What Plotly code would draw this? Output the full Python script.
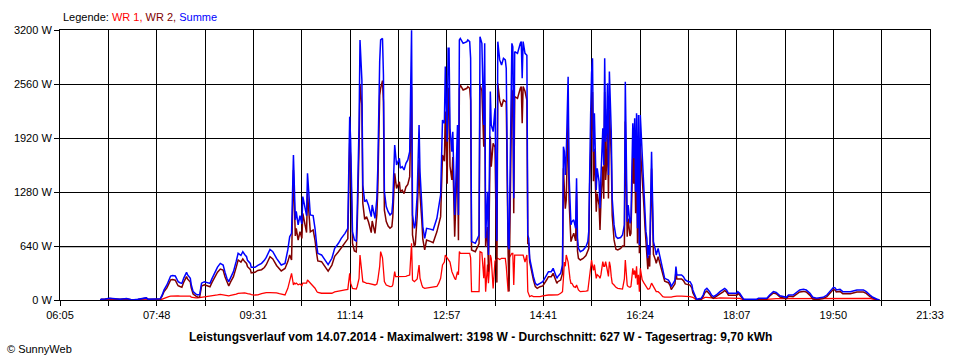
import plotly.graph_objects as go

# ---- data (time of day, watts) ----
times = [
    "06:48", "06:49", "06:53", "06:58", "07:04", "07:09", "07:16", "07:20", "07:22", "07:28",
    "07:37", "07:39", "07:46", "07:52", "07:54", "07:56", "07:59", "08:01", "08:03", "08:05",
    "08:08", "08:10", "08:11", "08:13", "08:15", "08:17", "08:20", "08:21", "08:24", "08:25",
    "08:27", "08:30", "08:32", "08:34", "08:36", "08:39", "08:42", "08:45", "08:47", "08:50",
    "08:53", "08:56", "08:59", "09:01", "09:03", "09:05", "09:07", "09:10", "09:13", "09:15",
    "09:18", "09:20", "09:22", "09:24", "09:25", "09:28", "09:29", "09:33", "09:36", "09:40",
    "09:43", "09:45", "09:49", "09:52", "09:56", "09:59", "10:01", "10:05", "10:08", "10:10",
    "10:12", "10:14", "10:15", "10:16", "10:17", "10:19", "10:21", "10:23", "10:24", "10:26",
    "10:28", "10:29", "10:31", "10:32", "10:35", "10:37", "10:39", "10:40", "10:44", "10:48",
    "10:51", "10:55", "10:58", "11:02", "11:05", "11:09", "11:12", "11:14", "11:15", "11:17",
    "11:19", "11:21", "11:22", "11:24", "11:25", "11:27", "11:28", "11:30", "11:32", "11:34",
    "11:37", "11:38", "11:41", "11:43", "11:44", "11:46", "11:47", "11:49", "11:50", "11:51",
    "11:53", "11:55", "11:57", "11:59", "12:00", "12:02", "12:03", "12:04", "12:07", "12:08",
    "12:10", "12:12", "12:14", "12:16", "12:18", "12:20", "12:21", "12:23", "12:24", "12:26",
    "12:28", "12:29", "12:31", "12:32", "12:34", "12:36", "12:40", "12:43", "12:47", "12:49",
    "12:51", "12:53", "12:55", "12:56", "12:58", "12:59", "13:00", "13:01", "13:03", "13:04",
    "13:06", "13:07", "13:09", "13:10", "13:11", "13:12", "13:15", "13:19", "13:20", "13:22",
    "13:23", "13:24", "13:28", "13:32", "13:33", "13:35", "13:37", "13:38", "13:39", "13:41",
    "13:42", "13:44", "13:45", "13:47", "13:49", "13:51", "13:52", "13:54", "13:56", "13:58",
    "14:00", "14:01", "14:03", "14:04", "14:06", "14:07", "14:08", "14:09", "14:10", "14:13",
    "14:16", "14:17", "14:18", "14:19", "14:21", "14:23", "14:24", "14:25", "14:26", "14:28",
    "14:30", "14:32", "14:34", "14:37", "14:40", "14:44", "14:46", "14:49", "14:51", "14:53",
    "14:55", "14:56", "14:59", "15:01", "15:02", "15:03", "15:04", "15:05", "15:07", "15:08",
    "15:09", "15:10", "15:11", "15:13", "15:15", "15:16", "15:17", "15:18", "15:20", "15:23",
    "15:26", "15:28", "15:29", "15:30", "15:31", "15:32", "15:33", "15:34", "15:35", "15:37",
    "15:38", "15:40", "15:41", "15:42", "15:44", "15:45", "15:46", "15:47", "15:48", "15:49",
    "15:50", "15:51", "15:52", "15:53", "15:54", "15:56", "15:58", "16:00", "16:03", "16:05",
    "16:07", "16:08", "16:10", "16:11", "16:13", "16:14", "16:16", "16:17", "16:18", "16:19",
    "16:20", "16:21", "16:22", "16:23", "16:24", "16:25", "16:26", "16:28", "16:29", "16:30",
    "16:31", "16:32", "16:33", "16:34", "16:36", "16:38", "16:40", "16:41", "16:43", "16:45",
    "16:47", "16:48", "16:50", "16:54", "16:56", "16:57", "16:59", "17:01", "17:02", "17:03",
    "17:08", "17:10", "17:12", "17:15", "17:17", "17:19", "17:20", "17:22", "17:24", "17:29",
    "17:31", "17:33", "17:35", "17:38", "17:40", "17:42", "17:45", "17:49", "17:52", "17:54",
    "17:56", "17:58", "18:07", "18:08", "18:10", "18:12", "18:14", "18:17", "18:28", "18:30",
    "18:39", "18:42", "18:46", "18:49", "18:53", "19:00", "19:02", "19:07", "19:11", "19:14",
    "19:18", "19:21", "19:25", "19:28", "19:32", "19:39", "19:43", "19:46", "19:50", "19:52",
    "19:53", "19:57", "20:00", "20:08", "20:11", "20:15", "20:22", "20:25", "20:29", "20:32",
    "20:36", "20:39",
]

# Summe (blue), total of both inverters
summe = [
    0, 10, 12, 20, 15, 10, 18, 8, 0, 8,
    25, 10, 8, 15, 60, 120, 178, 240, 284, 290,
    284, 240, 217, 205, 197, 260, 328, 300, 257, 180,
    99, 70, 59, 65, 200, 217, 205, 197, 250, 316,
    390, 434, 415, 330, 257, 217, 270, 336, 460, 553,
    530, 573, 540, 513, 470, 434, 387, 387, 410, 434,
    470, 505, 600, 573, 494, 450, 415, 434, 593, 750,
    790, 1719, 1100, 950, 1050, 890, 1000, 900, 1225, 1100,
    1000, 1502, 1100, 1008, 1000, 850, 632, 553, 534, 474,
    420, 494, 613, 672, 731, 790, 850, 2173, 1897, 810,
    711, 700, 1027, 2074, 3082, 2608, 1363, 1166, 1186, 1126,
    988, 1126, 968, 1205, 1561, 2825, 3082, 3100, 2667, 1284,
    1107, 1047, 1008, 1030, 1166, 1837, 1699, 1600, 1679, 1561,
    1580, 1541, 1620, 1660, 1758, 3198, 1008, 850, 890, 1245,
    2074, 1521, 1107, 870, 731, 850, 840, 830, 968, 1087,
    1245, 2133, 2094, 2766, 1877, 2983, 2983, 2035, 1758, 1995,
    1008, 1324, 2074, 1008, 3082, 3100, 3042, 3062, 3082, 3062,
    2864, 692, 672, 770, 3121, 3042, 2074, 3042, 731, 1284,
    534, 2470, 2074, 1995, 2272, 700, 3062, 2845, 2785, 2864,
    2845, 2746, 652, 600, 2272, 3042, 3000, 1205, 2943, 2923,
    3042, 3062, 2627, 3062, 2923, 2900, 770, 731, 494, 375,
    277, 198, 178, 198, 217, 296, 336, 336, 375, 316,
    257, 277, 316, 415, 1817, 1758, 1482, 1719, 2647, 1482,
    1245, 890, 929, 950, 850, 1442, 731, 613, 573, 592,
    632, 692, 810, 1679, 2193, 2687, 2864, 1758, 2212, 1304,
    1561, 1403, 1087, 1462, 2035, 1600, 2864, 1877, 1995, 2568,
    1482, 2707, 2272, 2000, 1205, 890, 751, 731, 740, 770,
    890, 2588, 929, 1126, 909, 950, 2094, 1679, 2153, 1284,
    2212, 850, 2193, 652, 2193, 1956, 1758, 1284, 1047, 810,
    731, 494, 652, 534, 1758, 692, 600, 534, 612, 514,
    395, 336, 257, 237, 198, 158, 200, 237, 395, 296,
    296, 277, 237, 217, 217, 178, 119, 59, 8, 20,
    59, 119, 138, 99, 59, 40, 59, 99, 119, 138,
    119, 79, 79, 99, 79, 40, 12, 8, 8, 20,
    20, 59, 99, 90, 51, 32, 59, 59, 99, 119,
    126, 119, 79, 32, 20, 32, 59, 99, 150, 140,
    119, 126, 99, 99, 105, 119, 119, 99, 59, 32,
    12, 0,
]

# WR 1 (red)
wr1 = [
    0, 2, 2, 3, 2, 2, 3, 1, 0, 1,
    3, 2, 1, 2, 10, 20, 35, 40, 45, 48,
    50, 50, 48, 45, 45, 48, 50, 50, 45, 35,
    28, 25, 25, 28, 35, 38, 38, 40, 45, 50,
    60, 67, 60, 55, 50, 50, 55, 60, 70, 79,
    82, 87, 85, 80, 75, 71, 65, 59, 60, 75,
    85, 87, 87, 87, 85, 75, 70, 60, 138, 217,
    316, 178, 200, 190, 200, 180, 190, 170, 200, 200,
    200, 237, 210, 200, 170, 140, 99, 90, 80, 79,
    79, 80, 95, 100, 110, 119, 125, 316, 200, 138,
    130, 130, 160, 257, 533, 300, 217, 210, 198, 198,
    190, 190, 178, 190, 237, 400, 573, 500, 320, 220,
    178, 170, 158, 160, 180, 336, 277, 277, 277, 277,
    277, 280, 280, 290, 296, 672, 237, 217, 230, 250,
    415, 260, 178, 150, 138, 140, 145, 150, 160, 200,
    257, 415, 450, 533, 500, 480, 474, 450, 336, 300,
    257, 240, 336, 300, 573, 553, 553, 553, 553, 553,
    500, 99, 99, 100, 573, 560, 257, 500, 99, 420,
    200, 533, 494, 138, 460, 494, 494, 480, 494, 494,
    494, 400, 99, 500, 533, 553, 553, 178, 533, 533,
    533, 533, 533, 533, 450, 533, 99, 60, 40, 50,
    40, 40, 40, 40, 50, 59, 59, 59, 59, 59,
    59, 60, 80, 99, 257, 450, 400, 533, 450, 300,
    250, 198, 198, 158, 150, 178, 150, 120, 99, 99,
    105, 110, 200, 300, 420, 474, 400, 350, 420, 257,
    300, 280, 257, 300, 454, 400, 400, 454, 400, 300,
    280, 454, 400, 280, 200, 178, 150, 138, 130, 130,
    250, 474, 178, 160, 150, 160, 375, 300, 350, 257,
    400, 180, 300, 99, 375, 300, 240, 200, 180, 160,
    150, 130, 130, 138, 200, 150, 120, 99, 99, 79,
    60, 40, 35, 32, 32, 35, 40, 45, 47, 47,
    47, 47, 47, 40, 40, 35, 32, 15, 5, 8,
    20, 30, 32, 30, 25, 20, 20, 25, 25, 25,
    25, 22, 22, 20, 20, 10, 8, 5, 5, 8,
    8, 12, 16, 16, 16, 16, 16, 20, 24, 24,
    24, 24, 24, 20, 16, 16, 20, 20, 24, 24,
    24, 24, 24, 24, 24, 24, 24, 20, 18, 10,
    5, 0,
]

# WR 2 (dark red) is the remainder of the total
wr2 = [s - r for s, r in zip(summe, wr1)]

x_tick_labels = ["06:05", "07:48", "09:31", "11:14", "12:57",
                 "14:41", "16:24", "18:07", "19:50", "21:33"]
y_tick_values = [0, 640, 1280, 1920, 2560, 3200]
y_tick_labels = ["0 W", "640 W", "1280 W", "1920 W", "2560 W", "3200 W"]

title_text = ("Leistungsverlauf vom 14.07.2014 - Maximalwert: 3198 W - "
              "Durchschnitt: 627 W - Tagesertrag: 9,70 kWh")


def to_min(s):
    h, m = s.split(":")
    return int(h) * 60 + int(m)


x = [to_min(t) for t in times]
x_start = to_min(x_tick_labels[0])
x_end = to_min(x_tick_labels[-1])
n_grid = 2 * (len(x_tick_labels) - 1)
step = (x_end - x_start) / n_grid
x_grid_vals = [x_start + i * step for i in range(n_grid + 1)]
x_grid_text = [x_tick_labels[i // 2] if i % 2 == 0 else "" for i in range(n_grid + 1)]

FONT = "Liberation Sans, Arial, sans-serif"

fig = go.Figure()
fig.add_trace(go.Scatter(x=x, y=wr1, mode="lines", name="WR 1",
                         line=dict(color="#FF0000", width=1.3)))
fig.add_trace(go.Scatter(x=x, y=wr2, mode="lines", name="WR 2",
                         line=dict(color="#800000", width=1.5)))
fig.add_trace(go.Scatter(x=x, y=summe, mode="lines", name="Summe",
                         line=dict(color="#0000FF", width=1.5)))

fig.add_shape(type="line", xref="paper", x0=0, x1=1, yref="y", y0=628, y1=628,
              line=dict(color="#808080", width=1), layer="below")

fig.update_layout(
    width=960, height=360, autosize=False,
    margin=dict(l=60, r=30, t=30, b=60),
    paper_bgcolor="white", plot_bgcolor="white",
    showlegend=False, hovermode=False,
    font=dict(family=FONT, size=11, color="black"),
    xaxis=dict(range=[x_start, x_end], tickmode="array",
               tickvals=x_grid_vals, ticktext=x_grid_text,
               showgrid=True, gridcolor="black", gridwidth=1,
               ticks="outside", ticklen=5, tickcolor="black",
               showline=True, linecolor="black", linewidth=1, mirror=True,
               zeroline=False, tickfont=dict(size=11)),
    yaxis=dict(range=[0, 3200], tickmode="array",
               tickvals=y_tick_values, ticktext=y_tick_labels,
               showgrid=True, gridcolor="black", gridwidth=1,
               ticks="outside", ticklen=5, tickcolor="black",
               showline=True, linecolor="black", linewidth=1, mirror=True,
               zeroline=False, tickfont=dict(size=11)),
    annotations=[
        dict(xref="paper", yref="paper", x=0.001, y=1.049, xanchor="left", yanchor="middle",
             showarrow=False, font=dict(size=11, color="black"),
             text=("Legende: <span style='color:#FF0000'>WR 1,</span> "
                   "<span style='color:#800000'>WR 2,</span> "
                   "<span style='color:#0000FF'>Summe</span>")),
        dict(xref="paper", yref="paper", x=0.4828, y=-0.136, xanchor="center", yanchor="middle",
             showarrow=False, font=dict(size=12, color="black"),
             text="<b>" + title_text + "</b>"),
        dict(xref="paper", yref="paper", x=-0.0632, y=-0.1826, xanchor="left", yanchor="middle",
             showarrow=False, font=dict(size=11, color="black"),
             text="© SunnyWeb"),
    ],
)

fig.write_html("out.html",
               config={"displayModeBar": False, "staticPlot": True},
               post_script="document.body.style.margin='0';document.body.style.padding='0';")
